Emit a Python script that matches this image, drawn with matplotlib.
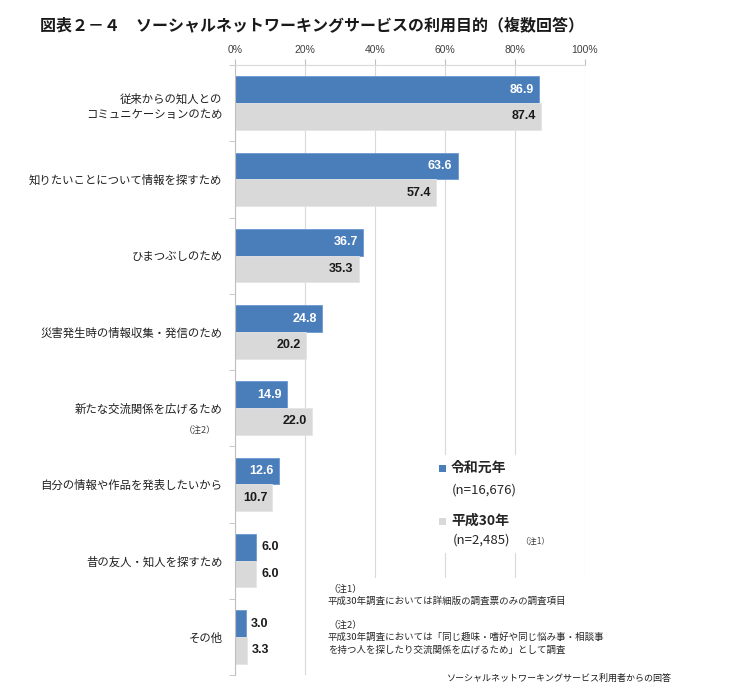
import matplotlib
matplotlib.use("Agg")
import matplotlib.pyplot as plt
from matplotlib.patches import Rectangle
import numpy as np

plt.rcParams['font.family'] = ['Noto Sans CJK JP', 'DejaVu Sans']

categories = [
    "従来からの知人との\nコミュニケーションのため",
    "知りたいことについて情報を探すため",
    "ひまつぶしのため",
    "災害発生時の情報収集・発信のため",
    "新たな交流関係を広げるため",
    "自分の情報や作品を発表したいから",
    "昔の友人・知人を探すため",
    "その他",
]
reiwa1 = [86.9, 63.6, 36.7, 24.8, 14.9, 12.6, 6.0, 3.0]
heisei30 = [87.4, 57.4, 35.3, 20.2, 22.0, 10.7, 6.0, 3.3]
xticks = [0, 20, 40, 60, 80, 100]

BLUE = "#4A7EBB"
GRAY = "#D9D9D9"
W, H = 750, 696


def fx(x):
    return x / W


def fy(y):
    return 1 - y / H


fig = plt.figure(figsize=(7.5, 6.96), dpi=100)
ax = fig.add_axes([fx(235), fy(675), fx(585) - fx(235), fy(65) - fy(675)])

y = np.arange(len(categories))
h = 0.35
ax.barh(y - h / 2, reiwa1, height=h, color=BLUE, edgecolor="#6A9AD3", linewidth=0.6, zorder=2)
ax.barh(y + h / 2, heisei30, height=h, color=GRAY, edgecolor="#E4E4E4", linewidth=0.6, zorder=2)

num_font = dict(family=["Liberation Sans", "DejaVu Sans"], fontsize=9, fontweight="bold")
for i, (a, b) in enumerate(zip(reiwa1, heisei30)):
    if a >= 10:
        ax.text(a - 1.5, i - h / 2, f"{a:.1f}", ha="right", va="center", color="white", zorder=3, **num_font)
    else:
        ax.text(a + 1.5, i - h / 2, f"{a:.1f}", ha="left", va="center", color="#1a1a1a", zorder=3, **num_font)
    if b >= 10:
        ax.text(b - 1.5, i + h / 2, f"{b:.1f}", ha="right", va="center", color="#1a1a1a", zorder=3, **num_font)
    else:
        ax.text(b + 1.5, i + h / 2, f"{b:.1f}", ha="left", va="center", color="#1a1a1a", zorder=3, **num_font)

ax.set_xlim(0, 100)
ax.set_ylim(len(categories) - 0.5, -0.5)
ax.xaxis.tick_top()
ax.set_xticks(xticks)
ax.set_xticklabels([f"{t}%" for t in xticks], fontsize=7.5, color="#404040",
                   family=["Liberation Sans", "DejaVu Sans"])
ax.tick_params(axis="x", length=4, color="#BFBFBF", pad=3)
ax.grid(axis="x", color="#D9D9D9", linewidth=0.8, zorder=0)
ax.set_axisbelow(True)

ax.set_yticks(y)
ax.set_yticklabels(categories, fontsize=8.2, color="#1f1f1f", linespacing=1.65)
ax.set_yticks(np.arange(len(categories) + 1) - 0.5, minor=True)
ax.tick_params(axis="y", which="major", length=0, pad=9)
ax.tick_params(axis="y", which="minor", length=4, color="#BFBFBF")

for s in ["right", "bottom"]:
    ax.spines[s].set_visible(False)
ax.spines["left"].set_color("#BFBFBF")
ax.spines["top"].set_color("#D9D9D9")

# white boxes that hide the grid behind legend and notes
for (x0, y0, x1, y1) in [(430, 455, 572, 553), (320, 578, 700, 696)]:
    fig.patches.append(Rectangle((fx(x0), fy(y1)), fx(x1) - fx(x0), fy(y0) - fy(y1),
                                 transform=fig.transFigure, facecolor="white",
                                 edgecolor="none", zorder=5))

fig.text(fx(40), fy(25), "図表２－４　ソーシャルネットワーキングサービスの利用目的（複数回答）",
         fontsize=11.5, fontweight="bold", va="center", ha="left", color="#1a1a1a")

fig.text(fx(200), fy(430), "（注2）", fontsize=6.5, color="#404040", ha="center", va="center")

# legend
fig.patches.append(Rectangle((fx(439), fy(472)), fx(7), 7 / H, transform=fig.transFigure,
                             facecolor=BLUE, edgecolor="none", zorder=6))
fig.text(fx(451), fy(468), "令和元年", fontsize=10, fontweight="bold", color="#262626",
         va="center", zorder=7)
fig.text(fx(452), fy(490), "(n=16,676)", fontsize=9.5, color="#262626", va="center", zorder=7)
fig.patches.append(Rectangle((fx(439), fy(525)), fx(7), 7 / H, transform=fig.transFigure,
                             facecolor=GRAY, edgecolor="none", zorder=6))
fig.text(fx(451), fy(521), "平成30年", fontsize=10, fontweight="bold", color="#262626",
         va="center", zorder=7)
fig.text(fx(453), fy(540), "(n=2,485)", fontsize=9.5, color="#262626", va="center", zorder=7)
fig.text(fx(520), fy(541), "（注1）", fontsize=6, color="#404040", va="center", zorder=7)

# notes
notes = [
    (589, "（注1）"),
    (601, "平成30年調査においては詳細版の調査票のみの調査項目"),
    (625, "（注2）"),
    (637, "平成30年調査においては「同じ趣味・嗜好や同じ悩み事・相談事"),
    (650, "を持つ人を探したり交流関係を広げるため」として調査"),
]
for yy, t in notes:
    fig.text(fx(328), fy(yy), t, fontsize=6.8, color="#262626", va="center", zorder=7)

fig.text(fx(447), fy(678), "ソーシャルネットワーキングサービス利用者からの回答",
         fontsize=6.5, color="#1a1a1a", va="center", zorder=7)

fig.savefig("out.png", dpi=100, facecolor="white")
